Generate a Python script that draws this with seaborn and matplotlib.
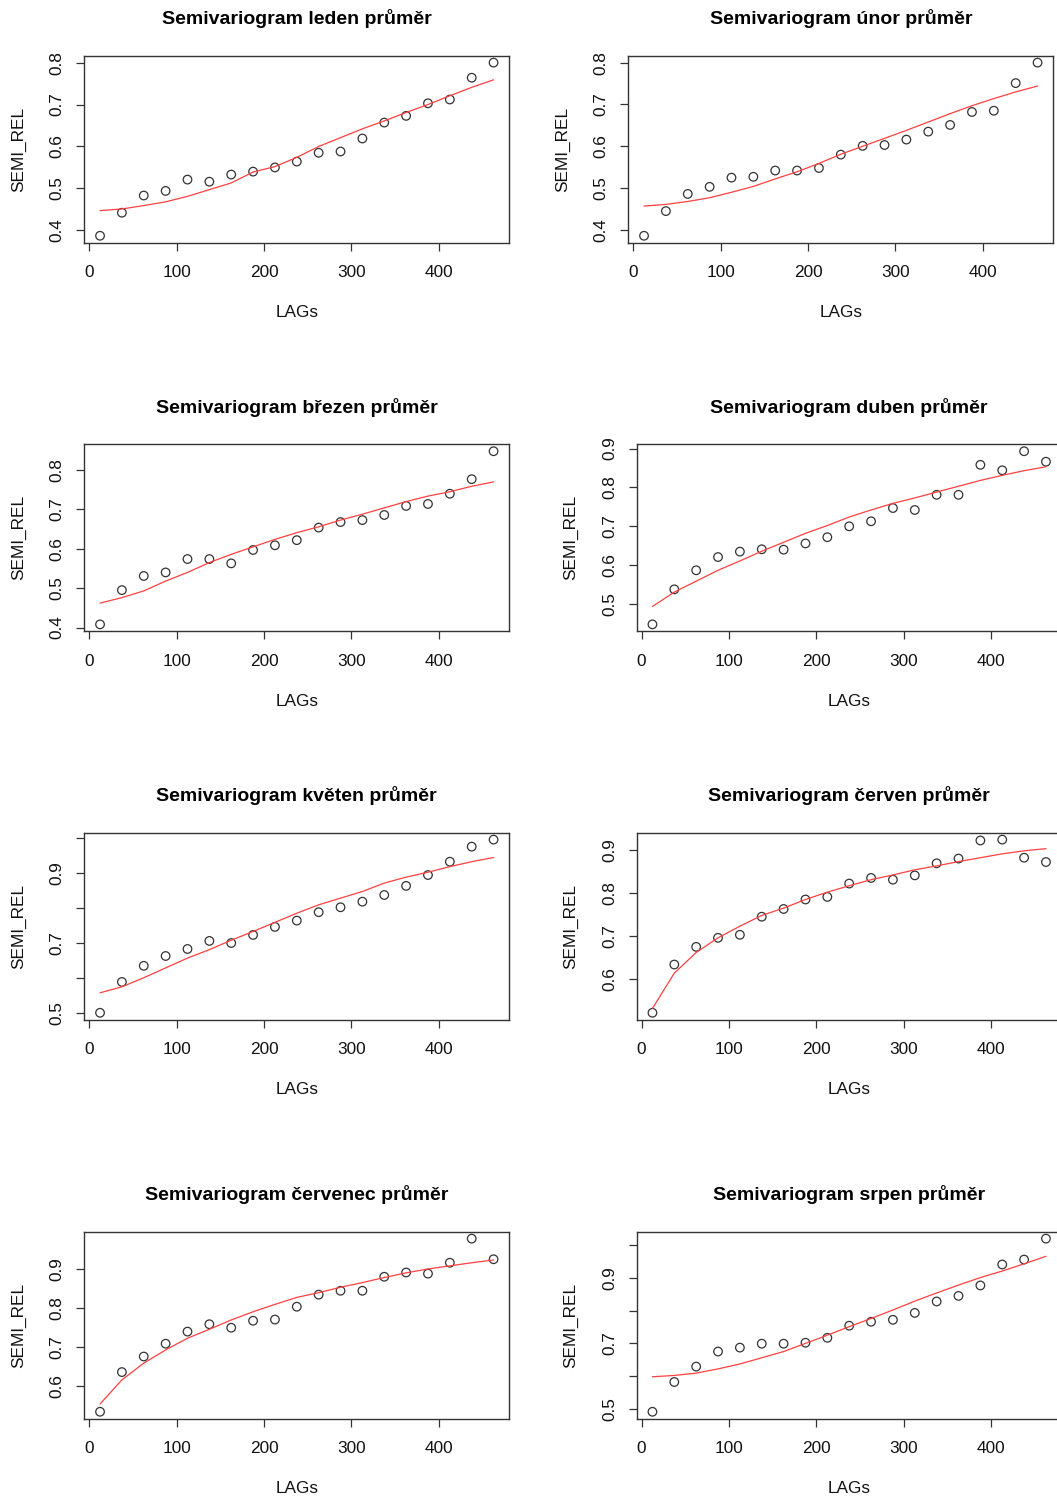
import matplotlib
matplotlib.use("Agg")
import matplotlib.pyplot as plt
import seaborn as sns

# lag centres (m) shared by all months
lags = [12.5, 37.5, 62.5, 87.5, 112.5, 137.5, 162.5, 187.5, 212.5, 237.5,
        262.5, 287.5, 312.5, 337.5, 362.5, 387.5, 412.5, 437.5, 462.5]

# relative semivariance per month (points) and fitted model (red line)
leden_semi = [0.387, 0.442, 0.483, 0.494, 0.521, 0.516, 0.533, 0.540, 0.550, 0.564,
              0.585, 0.588, 0.619, 0.657, 0.673, 0.703, 0.712, 0.764, 0.800]
leden_fit = [0.447, 0.451, 0.459, 0.468, 0.481, 0.497, 0.513, 0.539, 0.552, 0.574,
             0.600, 0.621, 0.642, 0.661, 0.681, 0.700, 0.721, 0.741, 0.759]

unor_semi = [0.386, 0.445, 0.486, 0.503, 0.525, 0.527, 0.542, 0.542, 0.548, 0.580,
             0.601, 0.603, 0.616, 0.635, 0.651, 0.682, 0.685, 0.751, 0.800]
unor_fit = [0.457, 0.461, 0.468, 0.477, 0.490, 0.504, 0.522, 0.539, 0.559, 0.581,
            0.600, 0.619, 0.638, 0.658, 0.678, 0.697, 0.714, 0.730, 0.744]

brezen_semi = [0.408, 0.495, 0.531, 0.540, 0.574, 0.574, 0.563, 0.597, 0.609, 0.622,
               0.654, 0.668, 0.673, 0.686, 0.709, 0.714, 0.740, 0.777, 0.848]
brezen_fit = [0.462, 0.476, 0.493, 0.518, 0.540, 0.565, 0.586, 0.605, 0.624, 0.641,
              0.656, 0.673, 0.688, 0.704, 0.720, 0.734, 0.745, 0.759, 0.770]

duben_semi = [0.448, 0.538, 0.587, 0.621, 0.635, 0.641, 0.640, 0.656, 0.672, 0.700,
              0.713, 0.747, 0.742, 0.781, 0.781, 0.858, 0.844, 0.893, 0.866]
duben_fit = [0.494, 0.531, 0.559, 0.587, 0.611, 0.636, 0.659, 0.682, 0.702, 0.724,
             0.742, 0.759, 0.773, 0.788, 0.803, 0.818, 0.831, 0.843, 0.853]

kveten_semi = [0.500, 0.588, 0.634, 0.662, 0.682, 0.705, 0.699, 0.722, 0.745, 0.763,
               0.787, 0.801, 0.817, 0.836, 0.862, 0.893, 0.931, 0.974, 0.994]
kveten_fit = [0.557, 0.574, 0.600, 0.628, 0.656, 0.680, 0.707, 0.732, 0.758, 0.784,
              0.808, 0.827, 0.846, 0.870, 0.887, 0.901, 0.917, 0.931, 0.943]

cerven_semi = [0.522, 0.634, 0.675, 0.696, 0.703, 0.745, 0.763, 0.785, 0.791, 0.822,
               0.835, 0.831, 0.841, 0.869, 0.880, 0.922, 0.924, 0.882, 0.872]
cerven_fit = [0.532, 0.614, 0.662, 0.696, 0.723, 0.748, 0.765, 0.785, 0.802, 0.817,
              0.831, 0.842, 0.854, 0.863, 0.873, 0.882, 0.891, 0.898, 0.903]

cervenec_semi = [0.534, 0.636, 0.676, 0.709, 0.740, 0.759, 0.750, 0.768, 0.771, 0.804,
                 0.835, 0.845, 0.845, 0.881, 0.892, 0.889, 0.917, 0.979, 0.926]
cervenec_fit = [0.554, 0.616, 0.659, 0.693, 0.723, 0.746, 0.770, 0.791, 0.810, 0.828,
                0.840, 0.854, 0.866, 0.879, 0.891, 0.901, 0.909, 0.917, 0.924]

srpen_semi = [0.491, 0.582, 0.629, 0.675, 0.687, 0.699, 0.699, 0.702, 0.717, 0.754,
              0.766, 0.772, 0.793, 0.828, 0.845, 0.877, 0.941, 0.956, 1.020]
srpen_fit = [0.598, 0.602, 0.609, 0.622, 0.637, 0.656, 0.675, 0.700, 0.725, 0.751,
             0.776, 0.802, 0.829, 0.854, 0.878, 0.901, 0.921, 0.943, 0.966]

months = ["leden", "únor", "březen", "duben", "květen", "červen", "červenec", "srpen"]
semi = [leden_semi, unor_semi, brezen_semi, duben_semi,
        kveten_semi, cerven_semi, cervenec_semi, srpen_semi]
fits = [leden_fit, unor_fit, brezen_fit, duben_fit,
        kveten_fit, cerven_fit, cervenec_fit, srpen_fit]

# y ticks and which of them carry a label (R drops overlapping ones)
yticks = [
    [0.4, 0.5, 0.6, 0.7, 0.8], [0.4, 0.5, 0.6, 0.7, 0.8],
    [0.4, 0.5, 0.6, 0.7, 0.8], [0.5, 0.6, 0.7, 0.8, 0.9],
    [0.5, 0.6, 0.7, 0.8, 0.9, 1.0], [0.6, 0.7, 0.8, 0.9],
    [0.6, 0.7, 0.8, 0.9], [0.5, 0.6, 0.7, 0.8, 0.9, 1.0],
]
ylabels_shown = [None, None, None, None, [0.5, 0.7, 0.9], None, None, [0.5, 0.7, 0.9]]

sns.set_style("ticks")
plt.rcParams["font.family"] = ["Liberation Sans", "DejaVu Sans"]

W, H = 1057, 1497
fig = plt.figure(figsize=(W / 100, H / 100), dpi=100)

# box positions in pixels (left, top), width/height
row_tops = [55.7, 444.3, 832.7, 1231.7]
col_left = [[84.3, 628.3], [84.3, 636.7], [84.3, 636.7], [84.3, 636.7]]
bw, bh = 425, 187

dark = "#333333"
for i, month in enumerate(months):
    r, c = divmod(i, 2)
    left = col_left[r][c]
    top = row_tops[r]
    ax = fig.add_axes([left / W, 1 - (top + bh) / H, bw / W, bh / H])

    sns.lineplot(x=lags, y=fits[i], ax=ax, color="#ff4040", lw=0.9)
    sns.scatterplot(x=lags, y=semi[i], ax=ax, marker="o", s=38,
                    facecolors="none", edgecolors=dark, linewidths=0.9)

    # R-like 4% range expansion
    lo, hi = min(semi[i]), max(semi[i])
    pad = (hi - lo) * 0.04
    ax.set_ylim(lo - pad, hi + pad)
    ax.set_xlim(12.5 - 18, 462.5 + 18)

    ax.set_xticks([0, 100, 200, 300, 400])
    ax.set_yticks(yticks[i])
    shown = ylabels_shown[i]
    ax.set_yticklabels([f"{t:.1f}" if (shown is None or t in shown) else ""
                        for t in yticks[i]], rotation=90, va="center")

    for sp in ax.spines.values():
        sp.set_visible(True)
        sp.set_color(dark)
        sp.set_linewidth(1.0)
    ax.tick_params(axis="both", direction="out", length=6, width=0.9,
                   color=dark, labelsize=12.4, labelcolor="#111111")
    ax.tick_params(axis="x", pad=10)
    ax.tick_params(axis="y", pad=8)

    ax.set_xlabel("LAGs", fontsize=12.4, color="#111111")
    ax.xaxis.label.set_va("center")
    ax.xaxis.set_label_coords(0.5, -70 / bh)
    ax.set_ylabel("SEMI_REL", fontsize=12.4, color="#111111")
    ax.yaxis.label.set_va("center")
    ax.yaxis.set_label_coords(-66 / bw, 0.5)

    ax.text(0.5, 1 + 37 / bh, f"Semivariogram {month} průměr", transform=ax.transAxes,
            ha="center", va="center", fontsize=14, fontweight="bold", color="black")

fig.savefig("out.png", dpi=100)
